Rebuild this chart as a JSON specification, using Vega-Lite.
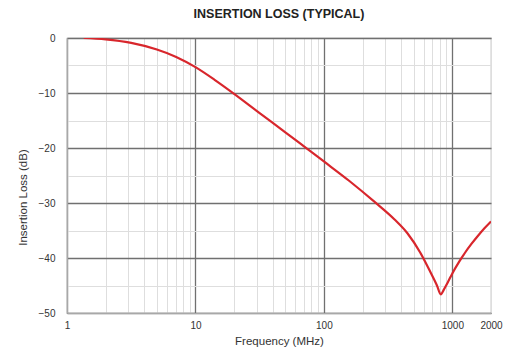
{
  "$schema": "https://vega.github.io/schema/vega-lite/v6.json",
  "autosize": {"type": "none"},
  "padding": {"left": 67, "top": 38, "right": 22, "bottom": 42},
  "width": 424,
  "height": 275,
  "background": "white",
  "config": {
    "font": "Liberation Sans",
    "view": {"stroke": "#a8a8a8", "strokeWidth": 1.2}
  },
  "title": {
    "text": "INSERTION LOSS (TYPICAL)",
    "font": "Liberation Sans",
    "fontSize": 12.5,
    "fontWeight": "bold",
    "color": "#222222",
    "anchor": "middle",
    "offset": 13
  },
  "data": {
    "values": [
      {"f": 1.35, "loss": 0},
      {"f": 2, "loss": -0.25},
      {"f": 3.16, "loss": -0.9},
      {"f": 5.01, "loss": -2.1},
      {"f": 7.08, "loss": -3.45},
      {"f": 10, "loss": -5.3},
      {"f": 14.1, "loss": -7.6},
      {"f": 20, "loss": -10.15},
      {"f": 31.6, "loss": -13.65},
      {"f": 50.1, "loss": -17.15},
      {"f": 70.8, "loss": -19.8},
      {"f": 100, "loss": -22.45},
      {"f": 158, "loss": -26.0},
      {"f": 251, "loss": -29.9},
      {"f": 355, "loss": -33.0},
      {"f": 447, "loss": -35.5},
      {"f": 562, "loss": -39.0},
      {"f": 676, "loss": -42.6},
      {"f": 759, "loss": -45.0},
      {"f": 813, "loss": -46.6},
      {"f": 861, "loss": -45.7},
      {"f": 923, "loss": -44.4},
      {"f": 1000, "loss": -42.8},
      {"f": 1122, "loss": -40.8},
      {"f": 1259, "loss": -39.0},
      {"f": 1413, "loss": -37.4},
      {"f": 1585, "loss": -35.95},
      {"f": 1778, "loss": -34.6},
      {"f": 2000, "loss": -33.35}
    ]
  },
  "mark": {"type": "line", "color": "#d8262c", "strokeWidth": 2.2, "interpolate": "monotone", "clip": true},
  "encoding": {
    "x": {
      "field": "f",
      "type": "quantitative",
      "scale": {"type": "log", "domain": [1, 2000], "nice": false},
      "axis": {
        "title": "Frequency (MHz)",
        "values": [1,2,3,4,5,6,7,8,9,10,20,30,40,50,60,70,80,90,100,200,300,400,500,600,700,800,900,1000,2000],
        "labelExpr": "(datum.value==1||datum.value==10||datum.value==100||datum.value==1000||datum.value==2000) ? format(datum.value,'d') : ''",
        "labelOverlap": false,
        "labelFlush": false,
        "labelFontSize": 10,
        "labelColor": "#333333",
        "labelPadding": 7,
        "ticks": false,
        "domainColor": "#a8a8a8",
        "domainWidth": 1.2,
        "grid": true,
        "gridColor": {"condition": {"test": "datum.value==1||datum.value==10||datum.value==100||datum.value==1000", "value": "#707070"}, "value": "#dedede"},
        "gridWidth": {"condition": {"test": "datum.value==1||datum.value==10||datum.value==100||datum.value==1000", "value": 1.3}, "value": 1},
        "titleFontSize": 11.5,
        "titleFontWeight": "normal",
        "titleColor": "#333333",
        "titlePadding": 5
      }
    },
    "y": {
      "field": "loss",
      "type": "quantitative",
      "scale": {"domain": [-50, 0], "nice": false, "zero": false},
      "axis": {
        "title": "Insertion Loss (dB)",
        "values": [-50,-45,-40,-35,-30,-25,-20,-15,-10,-5,0],
        "labelExpr": "datum.value % 10 == 0 ? format(datum.value,'d') : ''",
        "labelOverlap": false,
        "labelFlush": false,
        "labelFontSize": 10,
        "labelColor": "#333333",
        "labelPadding": 12,
        "ticks": false,
        "domainColor": "#a8a8a8",
        "domainWidth": 1.2,
        "grid": true,
        "gridColor": {"condition": {"test": "datum.value % 10 == 0", "value": "#707070"}, "value": "#dedede"},
        "gridWidth": {"condition": {"test": "datum.value % 10 == 0", "value": 1.3}, "value": 1},
        "titleFontSize": 11.5,
        "titleFontWeight": "normal",
        "titleColor": "#333333",
        "titlePadding": 10,
        "titleY": 159
      }
    }
  }
}
